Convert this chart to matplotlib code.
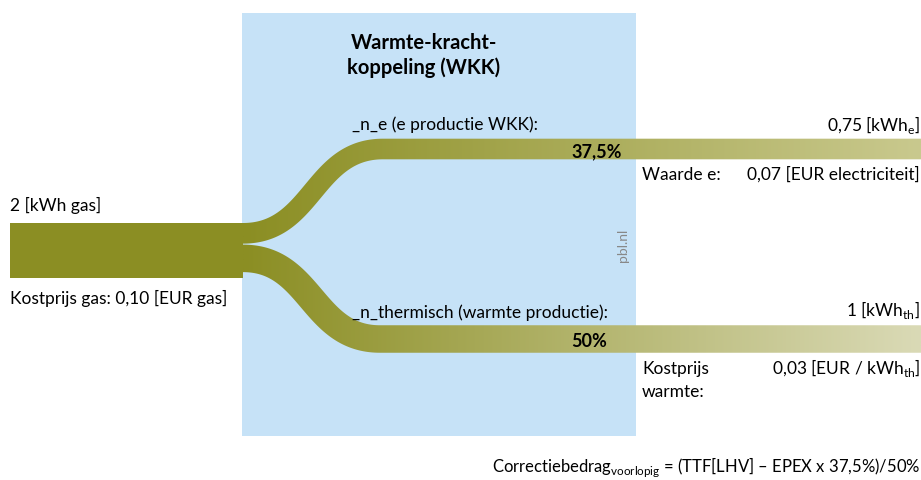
import numpy as np
import matplotlib
matplotlib.use("Agg")
import matplotlib.pyplot as plt
from matplotlib.path import Path
from matplotlib.patches import PathPatch, Rectangle
from matplotlib.colors import LinearSegmentedColormap

plt.rcParams['font.family'] = ['Lato', 'DejaVu Sans']
plt.rcParams['mathtext.fontset'] = 'custom'
plt.rcParams['mathtext.rm'] = 'Lato'

# flows (kWh) and shares
gas_in = 2.0
flow_values = [0.75, 1.0]          # electricity, heat
flow_shares = ['37,5%', '50%']
flow_labels = ['_n_e (e productie WKK):', '_n_thermisch (warmte productie):']
flow_amounts = [r'0,75 [kWh$_\mathrm{e}$]', r'1 [kWh$_\mathrm{th}$]']
flow_end_colors = ['#c9c98e', '#dadab6']

scale = 27.5          # px per kWh
start_col = '#8b8e23'

fig = plt.figure(figsize=(9.21, 4.81), dpi=100)
ax = fig.add_axes([0, 0, 1, 1])
ax.set_xlim(0, 921)
ax.set_ylim(481, 0)
ax.axis('off')

# blue WKK box
ax.add_patch(Rectangle((242, 14), 394, 423, facecolor='#c6e2f7', edgecolor='none', zorder=0))

# input bar
top_in = 224
ax.add_patch(Rectangle((10, top_in), 233, gas_in * scale, facecolor=start_col,
                       edgecolor='none', zorder=2))


def band_path(x0, y0, x1, y1, w, xend=921):
    t = np.linspace(0, 1, 200)
    k = (x1 - x0) * 0.5
    px = [x0, x0 + k, x1 - k, x1]
    py = [y0, y0, y1, y1]
    bx = ((1-t)**3*px[0] + 3*(1-t)**2*t*px[1] + 3*(1-t)*t**2*px[2] + t**3*px[3])
    by = ((1-t)**3*py[0] + 3*(1-t)**2*t*py[1] + 3*(1-t)*t**2*py[2] + t**3*py[3])
    bx = np.concatenate([bx, [xend]])
    by = np.concatenate([by, [y1]])
    dx = np.gradient(bx)
    dy = np.gradient(by)
    n = np.hypot(dx, dy)
    nx, ny = -dy / n, dx / n
    upper = np.column_stack([bx + nx * w / 2, by + ny * w / 2])
    lower = np.column_stack([bx - nx * w / 2, by - ny * w / 2])
    lower[0] = [x0, y0 - w / 2]
    upper[0] = [x0, y0 + w / 2]
    verts = np.vstack([upper, lower[::-1], upper[:1]])
    return Path(verts, closed=True)


centers_end = [150, 340]
x_end_curve = [383, 380]
y_start = top_in
for i, v in enumerate(flow_values):
    w = v * scale
    yc0 = y_start + w / 2
    y_start += w + 1
    p = band_path(243, yc0, x_end_curve[i], centers_end[i], w)
    patch = PathPatch(p, facecolor='none', edgecolor='none')
    ax.add_patch(patch)
    cmap = LinearSegmentedColormap.from_list('g%d' % i, [start_col, flow_end_colors[i]])
    grad = np.linspace(0, 1, 256).reshape(1, -1)
    im = ax.imshow(grad, cmap=cmap, extent=[243, 921, 400, 100], aspect='auto',
                   interpolation='bilinear', zorder=2)
    im.set_clip_path(patch)

ax.set_xlim(0, 921)
ax.set_ylim(481, 0)

fs = 12.5
# title
ax.text(424, 49, 'Warmte-kracht-', fontsize=14.5, fontweight='bold', ha='center', va='baseline')
ax.text(424, 74, 'koppeling (WKK)', fontsize=14.5, fontweight='bold', ha='center', va='baseline')

# input labels
ax.text(10, 211, '2 [kWh gas]', fontsize=fs, va='baseline')
ax.text(10, 304, 'Kostprijs gas: 0,10 [EUR gas]', fontsize=fs, va='baseline')

# flow labels
ax.text(352, 130, flow_labels[0], fontsize=fs, va='baseline')
ax.text(352, 318, flow_labels[1], fontsize=fs, va='baseline')
ax.text(622, 157, flow_shares[0], fontsize=13, fontweight='bold', ha='right', va='baseline')
ax.text(607, 347, flow_shares[1], fontsize=13, fontweight='bold', ha='right', va='baseline')
ax.text(920, 131, flow_amounts[0], fontsize=fs, ha='right', va='baseline')
ax.text(920, 316, flow_amounts[1], fontsize=fs, ha='right', va='baseline')

ax.text(642, 180, 'Waarde e:', fontsize=fs, va='baseline')
ax.text(920, 180, '0,07 [EUR electriciteit]', fontsize=fs, ha='right', va='baseline')
ax.text(642, 374, 'Kostprijs', fontsize=fs, va='baseline')
ax.text(642, 397, 'warmte:', fontsize=fs, va='baseline')
ax.text(920, 374, r'0,03 [EUR / kWh$_\mathrm{th}$]', fontsize=fs, ha='right', va='baseline')

ax.text(623, 245, 'pbl.nl', fontsize=10, color='#888888', rotation=90, ha='center', va='center')

ax.text(920, 472, r'Correctiebedrag$_\mathrm{voorlopig}$ = (TTF[LHV] – EPEX x 37,5%)/50%',
        fontsize=12, ha='right', va='baseline')

fig.savefig('out.png', dpi=100)
